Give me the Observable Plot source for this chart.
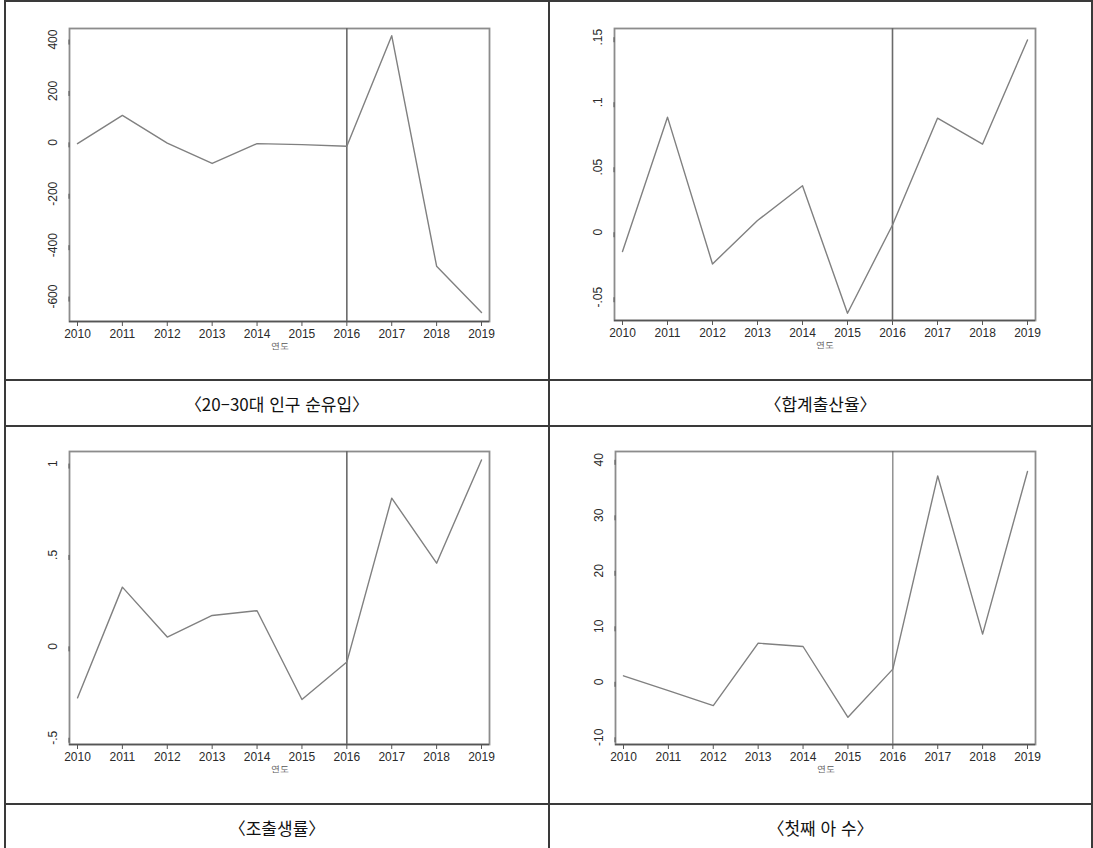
<!DOCTYPE html>
<html lang="ko">
<head>
<meta charset="utf-8">
<script src="https://cdn.jsdelivr.net/npm/d3@7"></script>
<script src="https://cdn.jsdelivr.net/npm/@observablehq/plot@0.6"></script>
<style>
  html, body { margin: 0; padding: 0; background: #fff; }
  #page { position: relative; width: 1093px; height: 848px; overflow: hidden; background: #fff; }
  .cell { position: absolute; }
  .hline, .vline { position: absolute; background: #3a3a3a; }
  .caption {
    position: absolute; display: flex; align-items: center; justify-content: center;
    font-family: "Noto Sans CJK KR", "Noto Sans", sans-serif; font-size: 17px; color: #111;
  }
</style>
</head>
<body>
<div id="page"></div>
<script>
// Years on the x axis (event year 2016 marked with a vertical rule)
const years = [2010, 2011, 2012, 2013, 2014, 2015, 2016, 2017, 2018, 2019];
const eventYear = 2016;

// Series
const netMigration2030 = [-5, 105, -3, -82, -5, -9, -15, 415, -482, -662];
const totalFertility = [-0.0149, 0.0885, -0.0244, 0.009, 0.0358, -0.0623, 0.0056, 0.0877, 0.0677, 0.1479];
const crudeBirthRate = [-0.282, 0.324, 0.051, 0.169, 0.195, -0.291, -0.086, 0.811, 0.455, 1.02];
const firstBirths = [1.08, -1.6, -4.3, 6.96, 6.36, -6.4, 2.28, 37.1, 8.6, 37.9];

// Y tick values and their labels
const ticks1 = [-600, -400, -200, 0, 200, 400];
const labels1 = ["-600", "-400", "-200", "0", "200", "400"];
const ticks2 = [-0.05, 0, 0.05, 0.1, 0.15];
const labels2 = ["-.05", "0", ".05", ".1", ".15"];
const ticks3 = [-0.5, 0, 0.5, 1];
const labels3 = ["-.5", "0", ".5", "1"];
const ticks4 = [-10, 0, 10, 20, 30, 40];
const labels4 = ["-10", "0", "10", "20", "30", "40"];

// Captions
const captions = ["〈20–30대 인구 순유입〉", "〈합계출산율〉", "〈조출생률〉", "〈첫째 아 수〉"];
const xLabel = "연도";

const page = document.getElementById("page");

function panel({values, yDomain, yTicks, yLabels, width, height, margins, ruleWidth}) {
  const fmt = new Map(yTicks.map((t, i) => [t, yLabels[i]]));
  const rows = years.map((year, i) => ({year, value: values[i]}));
  return Plot.plot({
    width, height, ...margins,
    style: {fontFamily: "'Liberation Sans', Arial, sans-serif", fontSize: "12px", color: "#2a2a2a", background: "transparent", overflow: "visible"},
    x: {domain: [2010, 2019], inset: 8},
    y: {domain: yDomain},
    marks: [
      Plot.frame({stroke: "#8c8c8c", strokeWidth: 1.8}),
      Plot.ruleY([yDomain[0]], {stroke: "#555", strokeWidth: 1.4}),
      Plot.axisX({ticks: years, tickFormat: d => String(d), tickSize: 5, tickPadding: 3, stroke: "#555", label: null}),
      Plot.axisY({ticks: yTicks, tickFormat: d => fmt.get(d), tickSize: 5, tickPadding: 11, rotate: -90, textAnchor: "middle", stroke: "#555", label: null}),
      Plot.ruleX([eventYear], {stroke: "#6a6a6a", strokeWidth: ruleWidth}),
      Plot.line(rows, {x: "year", y: "value", stroke: "#808080", strokeWidth: 1.4}),
      Plot.text([xLabel], {frameAnchor: "bottom", dy: 27, fontSize: 8.5, fill: "#555"})
    ]
  });
}

const specs = [
  {left: 5, top: 1, width: 544, height: 370, values: netMigration2030, yDomain: [-697, 443], yTicks: ticks1, yLabels: labels1,
   margins: {marginLeft: 64, marginRight: 60, marginTop: 27, marginBottom: 50}, ruleWidth: 1.6},
  {left: 549, top: 1, width: 543, height: 370, values: totalFertility, yDomain: [-0.0679, 0.1567], yTicks: ticks2, yLabels: labels2,
   margins: {marginLeft: 65, marginRight: 57, marginTop: 27, marginBottom: 51}, ruleWidth: 1.6},
  {left: 5, top: 426, width: 544, height: 370, values: crudeBirthRate, yDomain: [-0.537, 1.066], yTicks: ticks3, yLabels: labels3,
   margins: {marginLeft: 64, marginRight: 60, marginTop: 25, marginBottom: 52}, ruleWidth: 1.6},
  {left: 549, top: 426, width: 543, height: 370, values: firstBirths, yDomain: [-11.3, 41.5], yTicks: ticks4, yLabels: labels4,
   margins: {marginLeft: 66, marginRight: 57, marginTop: 25, marginBottom: 52}, ruleWidth: 1.1}
];

specs.forEach(s => {
  const div = document.createElement("div");
  div.className = "cell";
  div.style.left = s.left + "px";
  div.style.top = s.top + "px";
  div.appendChild(panel(s));
  page.appendChild(div);
});

// Caption cells
const capCells = [
  {left: 5, top: 380, width: 544, height: 46},
  {left: 549, top: 380, width: 543, height: 46},
  {left: 5, top: 804, width: 544, height: 46},
  {left: 549, top: 804, width: 543, height: 46}
];
capCells.forEach((c, i) => {
  const d = document.createElement("div");
  d.className = "caption";
  Object.assign(d.style, {left: c.left + "px", top: c.top + "px", width: c.width + "px", height: c.height + "px"});
  d.textContent = captions[i];
  page.appendChild(d);
});

// Table rules
function line(cls, x, y, w, h) {
  const d = document.createElement("div");
  d.className = cls;
  Object.assign(d.style, {left: x + "px", top: y + "px", width: w + "px", height: h + "px"});
  page.appendChild(d);
}
line("hline", 4, 0, 1090, 1.5);
line("hline", 4, 379, 1090, 1.6);
line("hline", 4, 425, 1090, 2);
line("hline", 4, 803, 1090, 2);
line("vline", 4, 0, 1.8, 848);
line("vline", 548, 0, 2, 848);
line("vline", 1091, 0, 1.8, 848);
</script>
</body>
</html>
